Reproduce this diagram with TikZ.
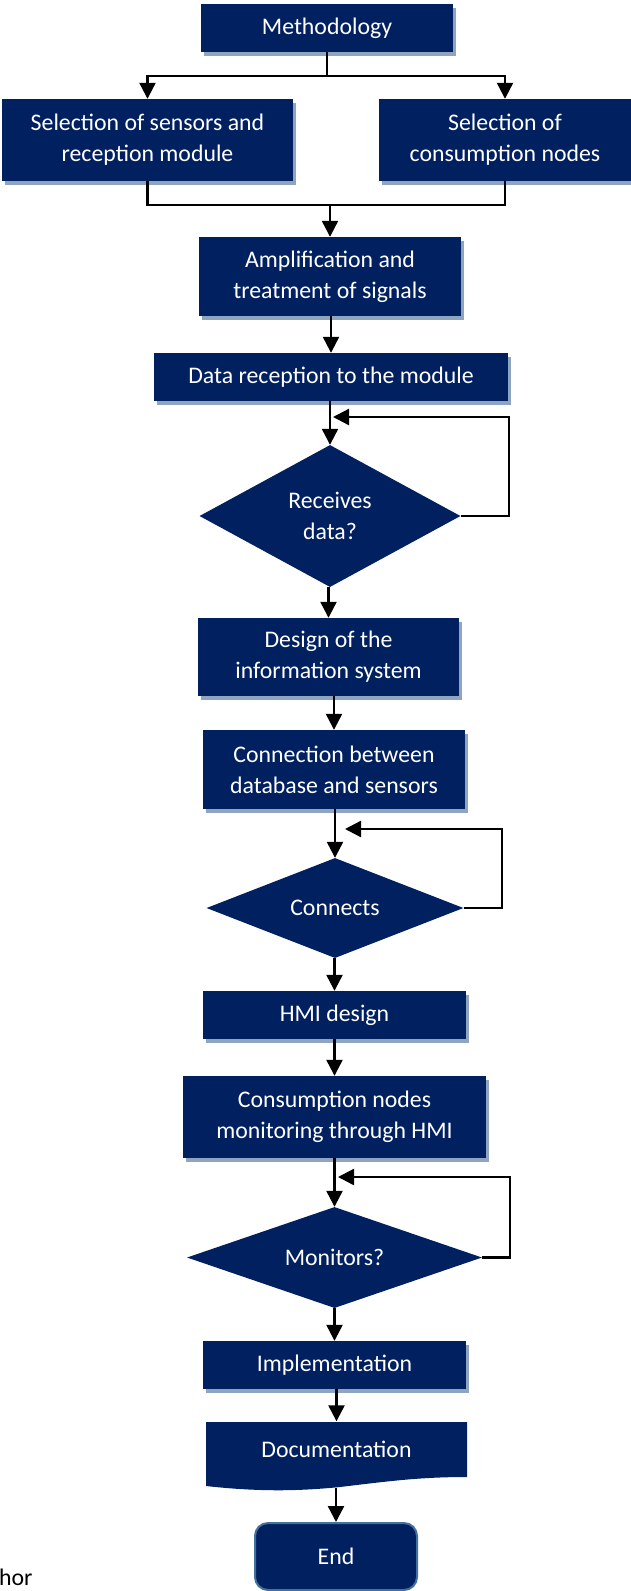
\documentclass[tikz,border=0pt]{standalone}
\usepackage{fontspec}
\setmainfont{Carlito}
\usetikzlibrary{shapes.geometric,arrows.meta,shadows}
\definecolor{navy}{HTML}{002060}
\definecolor{shadowc}{HTML}{8FA4BE}
\definecolor{endborder}{HTML}{41719C}
\tikzset{
  boxfont/.style={font=\fontsize{23.8}{31}\selectfont},
  box/.style={rectangle, fill=navy, text=white, inner sep=0pt, align=center, boxfont,
    drop shadow={shadow xshift=3pt, shadow yshift=-4pt, fill=shadowc, opacity=1}},
  decision/.style={diamond, fill=navy, text=white, inner sep=0pt, aspect=1.8, align=center, boxfont},
  arr/.style={draw=black, line width=2.3pt, -{Triangle[width=16pt,length=16pt]}},
  ln/.style={draw=black, line width=2.3pt},
}
\begin{document}
\begin{tikzpicture}[x=1pt,y=-1pt]
\useasboundingbox (0,0) rectangle (631,1591);
% nodes
\node[box, minimum width=252, minimum height=48] (meth) at (327,28) {Methodology};
\node[box, minimum width=291, minimum height=82] (left) at (147.5,140) {Selection of sensors and\\reception module};
\node[box, minimum width=252, minimum height=82] (right) at (505,140) {Selection of\\consumption nodes};
\node[box, minimum width=262, minimum height=79] (amp) at (330,276.5) {Amplification and\\treatment of signals};
\node[box, minimum width=354, minimum height=48] (data) at (331,377) {Data reception to the module};
\node[decision, minimum width=261, minimum height=142] (d1) at (330,516) {Receives\\data?};
\node[box, minimum width=261, minimum height=78] (design) at (328.5,657) {Design of the\\information system};
\node[box, minimum width=262, minimum height=79] (conn) at (334,769.5) {Connection between\\database and sensors};
\node[decision, minimum width=257, minimum height=100] (d2) at (335,908) {Connects};
\node[box, minimum width=263, minimum height=48] (hmi) at (334.5,1015) {HMI design};
\node[box, minimum width=303, minimum height=82] (cons) at (334.5,1117) {Consumption nodes\\monitoring through HMI};
\node[decision, minimum width=295, minimum height=101] (d3) at (334.5,1257.5) {Monitors?};
\node[box, minimum width=263, minimum height=48] (impl) at (334.5,1365) {Implementation};
% documentation shape
\fill[navy] (206,1422) -- (467,1422) -- (467,1477)
  .. controls (420,1477) and (390,1481) .. (340,1487)
  .. controls (300,1491) and (260,1492) .. (206,1486) -- cycle;
\node[text=white, boxfont, inner sep=0pt, minimum width=261, minimum height=55] (doc) at (336.5,1449) {Documentation};
\coordinate (docb) at (336,1488);
\node[rectangle, rounded corners=13pt, fill=navy, draw=endborder, line width=2pt, text=white, boxfont,
  minimum width=162, minimum height=67] (end) at (336,1556.5) {End};
\node[anchor=base west, boxfont, text=black, inner sep=0pt] (src) at (-1,1585) {hor};
% connectors
\coordinate (br) at (327,76);
\draw[ln] (meth.south) -- (br);
\draw[arr] (br) -| (left.north);
\draw[arr] (br) -| (right.north);
\coordinate (jn) at (330,205);
\draw[ln] (left.south) |- (jn) -| (right.south);
\draw[arr] (jn) -- (amp.north);
\draw[arr] (amp.south -| data.north) -- (data.north);
\draw[arr] (data.south -| d1.north) -- (d1.north);
\draw[arr] (d1.south -| design.north) -- (design.north);
\draw[arr] (design.south -| conn.north) -- (conn.north);
\draw[arr] (conn.south -| d2.north) -- (d2.north);
\draw[arr] (d2.south -| hmi.north) -- (hmi.north);
\draw[arr] (hmi.south -| cons.north) -- (cons.north);
\draw[arr] (cons.south -| d3.north) -- (d3.north);
\draw[arr] (d3.south -| impl.north) -- (impl.north);
\draw[arr] (impl.south -| doc.north) -- (doc.north);
\draw[arr] (docb) -- (end.north);
% loops
\coordinate (l1c) at (509,417);
\coordinate (l1) at (333,417);
\draw[arr] (d1.east) -| (l1c) -- (l1);
\coordinate (l2c) at (502,829);
\coordinate (l2) at (345,829);
\draw[arr] (d2.east) -| (l2c) -- (l2);
\coordinate (l3c) at (510,1177);
\coordinate (l3) at (338,1177);
\draw[arr] (d3.east) -| (l3c) -- (l3);
\end{tikzpicture}
\end{document}
